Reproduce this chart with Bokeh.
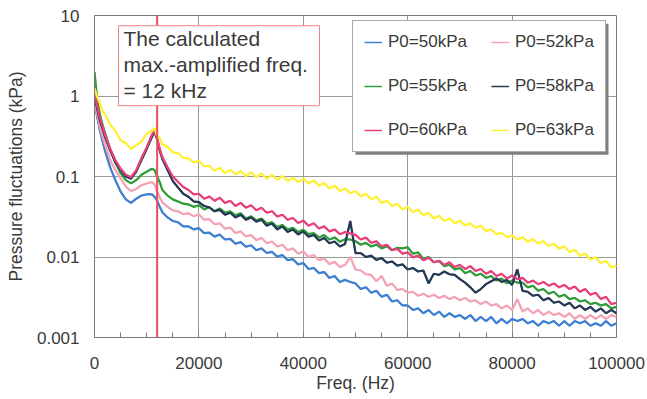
from bokeh.plotting import figure
from bokeh.models import (ColumnDataSource, Legend, LegendItem, Label,
                          BoxAnnotation, FixedTicker, Span, BasicTickFormatter)
from bokeh.embed import file_html
from bokeh.resources import INLINE

# ---------------- data ----------------
freq = ([0, 500, 1000, 1500, 2000, 3000, 4000, 5000, 6000, 7000, 8000, 9000,
         10000, 11000, 11500, 12000, 12500, 13000, 14000, 15000, 16000, 17000,
         18000, 19000] + list(range(20000, 100001, 1000)))

p50 = [0.85, 0.55, 0.38, 0.28, 0.21, 0.13, 0.09, 0.065, 0.052, 0.047, 0.053, 0.058,
       0.06, 0.06, 0.056, 0.05, 0.042, 0.036, 0.031, 0.028, 0.027, 0.024, 0.024, 0.022,
       .0228, .0198, .0201, .0179, .0190, .0165, .0168, .0146, .0153, .0134,
       .0140, .0121, .0128, .0112, .0116, .0101, .0106, .0091, .0094, .0081,
       .0084, .0071, .0073, .0063, .0065, .0055, .0058, .0049, .0052, .0049,
       .0047, .0040, .0042, .0036, .0038, .0032, .0034, .0028, .0029, .0025,
       .0025, .0022, .0023, .0020, .0022, .0019, .0021, .0018, .0020, .0018,
       .0019, .0017, .0019, .0016, .0018, .0016, .0018, .0015, .0017, .0015,
       .0017, .0016, .0017, .0015, .0016, .0014, .0016, .0015, .0016, .0014,
       .0016, .0014, .0016, .0015, .0016, .0014, .0015, .0014, .0016, .0014,
       .0015]

p52 = [0.85, 0.60, 0.42, 0.32, 0.25, 0.16, 0.12, 0.095, 0.075, 0.066, 0.07, 0.078,
       0.082, 0.085, 0.08, 0.065, 0.055, 0.048, 0.042, 0.038, 0.037, 0.034, 0.035, 0.032,
       .0340, .0290, .0295, .0255, .0262, .0225, .0232, .0198, .0208, .0180,
       .0188, .0162, .0172, .0148, .0156, .0135, .0142, .0121, .0128, .0110,
       .0117, .0100, .0106, .0091, .0096, .0082, .0087, .0075, .0080, .0100,
       .0070, .0068, .0061, .0060, .0050, .0058, .0044, .0047, .0039, .0040,
       .0036, .0037, .0033, .0035, .0032, .0034, .0031, .0033, .0030, .0032,
       .0029, .0031, .0028, .0029, .0026, .0028, .0025, .0026, .0023, .0025,
       .0022, .0030, .0021, .0023, .0020, .0022, .0019, .0021, .0019, .0020,
       .0018, .0020, .0017, .0019, .0017, .0019, .0017, .0019, .0017, .0019,
       .0018]

p55 = [2.0, 0.92, 0.60, 0.45, 0.35, 0.22, 0.15, 0.11, 0.09, 0.082, 0.09, 0.105,
       0.115, 0.125, 0.12, 0.10, 0.085, 0.068, 0.058, 0.052, 0.049, 0.046, 0.045, 0.042,
       .0440, .0390, .0415, .0370, .0400, .0355, .0370, .0330, .0350, .0300,
       .0320, .0285, .0300, .0260, .0270, .0235, .0250, .0220, .0230, .0205,
       .0218, .0192, .0198, .0175, .0187, .0165, .0175, .0155, .0166, .0165,
       .0157, .0142, .0150, .0135, .0143, .0128, .0136, .0121, .0130, .0128,
       .0132, .0110, .0114, .0095, .0100, .0086, .0089, .0077, .0080, .0070,
       .0073, .0063, .0067, .0059, .0062, .0055, .0058, .0051, .0054, .0047,
       .0051, .0048, .0048, .0042, .0044, .0038, .0040, .0035, .0037, .0032,
       .0034, .0030, .0031, .0028, .0029, .0026, .0027, .0025, .0026, .0023,
       .0024]

p58 = [1.00, 0.70, 0.50, 0.40, 0.31, 0.21, 0.15, 0.12, 0.10, 0.094, 0.115, 0.16,
       0.22, 0.31, 0.36, 0.29, 0.21, 0.165, 0.12, 0.088, 0.073, 0.061, 0.056, 0.049,
       .0480, .0430, .0415, .0370, .0385, .0335, .0355, .0310, .0335, .0290,
       .0310, .0275, .0290, .0245, .0260, .0220, .0240, .0205, .0220, .0190,
       .0208, .0178, .0188, .0160, .0172, .0148, .0156, .0135, .0145, .0280,
       .0112, .0112, .0100, .0104, .0092, .0097, .0085, .0088, .0078, .0081,
       .0070, .0073, .0066, .0068, .0047, .0062, .0060, .0066, .0061, .0060,
       .0053, .0048, .0042, .0036, .0040, .0046, .0050, .0054, .0049, .0052,
       .0045, .0070, .0038, .0037, .0033, .0034, .0029, .0031, .0027, .0028,
       .0025, .0027, .0023, .0025, .0022, .0024, .0021, .0023, .0020, .0022,
       .0020]

p60 = [1.10, 0.76, 0.54, 0.43, 0.33, 0.22, 0.16, 0.125, 0.105, 0.098, 0.12, 0.17,
       0.23, 0.33, 0.37, 0.30, 0.22, 0.175, 0.13, 0.10, 0.086, 0.074, 0.068, 0.060,
       .0610, .0530, .0565, .0500, .0545, .0470, .0500, .0430, .0470, .0410,
       .0440, .0380, .0410, .0355, .0370, .0318, .0335, .0290, .0305, .0265,
       .0283, .0245, .0262, .0226, .0240, .0208, .0220, .0192, .0204, .0196,
       .0188, .0165, .0174, .0150, .0157, .0136, .0142, .0122, .0126, .0110,
       .0114, .0099, .0104, .0091, .0098, .0086, .0090, .0080, .0086, .0075,
       .0080, .0071, .0077, .0067, .0071, .0062, .0067, .0058, .0062, .0054,
       .0059, .0053, .0055, .0048, .0051, .0046, .0049, .0044, .0047, .0042,
       .0045, .0040, .0043, .0037, .0040, .0034, .0036, .0030, .0032, .0026,
       .0027]

p63 = [1.25, 0.98, 0.82, 0.66, 0.60, 0.44, 0.37, 0.28, 0.26, 0.22, 0.245, 0.27,
       0.34, 0.37, 0.40, 0.32, 0.30, 0.25, 0.235, 0.20, 0.195, 0.17, 0.168, 0.150,
       .156, .134, .136, .118, .128, .110, .121, .106, .117, .101,
       .113, .098, .109, .094, .105, .091, .101, .088, .097, .085,
       .094, .082, .089, .077, .083, .071, .077, .066, .071, .062,
       .066, .057, .061, .052, .056, .047, .050, .043, .046, .039,
       .042, .036, .039, .033, .0355, .0300, .0325, .0280, .0302, .0262,
       .0283, .0246, .0262, .0231, .0245, .0210, .0220, .0192, .0199, .0176,
       .0186, .0166, .0175, .0155, .0167, .0147, .0157, .0137, .0146, .0127,
       .0136, .0115, .0123, .0104, .0110, .0093, .0099, .0084, .0089, .0074,
       .0078]

series_names = ["P0=50kPa", "P0=52kPa", "P0=55kPa", "P0=58kPa", "P0=60kPa", "P0=63kPa"]
series_values = [p50, p52, p55, p58, p60, p63]
series_colors = ["#3f80d2", "#f4a3b5", "#2f9e3a", "#263a55", "#e8407c", "#fff035"]
for vals in series_values:
    assert len(vals) == len(freq), (len(vals), len(freq))

calc_freq = 12000
x_ticks = [0, 20000, 40000, 60000, 80000, 100000]
x_minor = [5000 * i for i in range(1, 20)]
y_ticks = [0.001, 0.01, 0.1, 1, 10]
y_tick_labels = ["0.001", "0.01", "0.1", "1", "10"]
note_lines = ["The calculated", "max.-amplified freq.", "= 12 kHz"]

FONT = "Liberation Sans"
TXT = "#3a3a3a"

p = figure(width=647, height=399,
           x_range=(0, 100000), y_range=(0.001, 10), y_axis_type="log",
           output_backend="svg", toolbar_location=None,
           min_border_left=94, min_border_top=15, min_border_right=31,
           min_border_bottom=62, background_fill_color="white",
           border_fill_color="white")
p.outline_line_color = "#7a7a7a"

# grids
p.xgrid.ticker = FixedTicker(ticks=x_ticks)
p.ygrid.ticker = FixedTicker(ticks=y_ticks)
for g in (p.xgrid, p.ygrid):
    g.grid_line_color = "#9a9a9a"
    g.grid_line_width = 1

# axes
p.xaxis.ticker = FixedTicker(ticks=x_ticks, minor_ticks=x_minor)
p.xaxis.formatter = BasicTickFormatter(use_scientific=False)
p.yaxis.ticker = FixedTicker(ticks=y_ticks)
p.yaxis.major_label_overrides = {t: s for t, s in zip(y_ticks, y_tick_labels)}
p.xaxis.axis_label = "Freq. (Hz)"
p.yaxis.axis_label = "Pressure fluctuations (kPa)"
for ax in (p.xaxis, p.yaxis):
    ax.axis_line_color = "#7a7a7a"
    ax.major_tick_out = 0
    ax.major_tick_in = 0
    ax.minor_tick_out = 0
    ax.major_label_text_font = FONT
    ax.major_label_text_font_size = "17px"
    ax.major_label_text_color = TXT
    ax.axis_label_text_font = FONT
    ax.axis_label_text_font_size = "17.5px"
    ax.axis_label_text_font_style = "normal"
    ax.axis_label_text_color = TXT
p.xaxis.minor_tick_in = 5
p.xaxis.minor_tick_line_color = "#7a7a7a"
p.yaxis.minor_tick_in = 0
p.xaxis.major_label_standoff = 19
p.xaxis.axis_label_standoff = 1
p.yaxis.major_label_standoff = 15
p.yaxis.axis_label_standoff = 8

# series: a noisy band plus a thin copy used for the legend swatch
legend_lines = []
for name, vals, col in zip(series_names, series_values, series_colors):
    src = ColumnDataSource(dict(x=freq, y=vals))
    p.line("x", "y", source=src, line_color=col, line_width=2.2)
    thin = p.line("x", "y", source=src, line_color=col, line_width=1.5)
    legend_lines.append(thin)

# red marker line at the calculated frequency
p.add_layout(Span(location=calc_freq, dimension="height",
                  line_color="#e8505a", line_width=2))

# annotation box with note
p.add_layout(BoxAnnotation(left=4600, right=43100, top=7.47, bottom=0.758,
                           fill_color="white", fill_alpha=1,
                           line_color="#f08080", line_width=1, line_alpha=1))
for txt, yy in zip(note_lines, [5.15, 2.45, 1.16]):
    p.add_layout(Label(x=5560, y=yy, text=txt, text_font=FONT,
                       text_font_size="21px", text_color=TXT,
                       text_baseline="middle", text_align="left"))

# legend shadow
p.add_layout(BoxAnnotation(left=50000, right=98470, top=7.91, bottom=0.1866,
                           fill_color="#808080", fill_alpha=1, line_alpha=0))

# Bokeh fills legend columns first: order so rows read 50|52, 55|58, 60|63
order = [0, 2, 4, 1, 3, 5]
legend = Legend(items=[LegendItem(label=series_names[i], renderers=[legend_lines[i]])
                       for i in order],
                location=(258, 185), ncols=2,
                label_text_font=FONT, label_text_font_size="17px",
                label_text_color=TXT, glyph_width=18, glyph_height=20,
                label_height=20, label_standoff=6, spacing=24, padding=11,
                margin=0, border_line_color="#555555", border_line_width=1,
                background_fill_color="white", background_fill_alpha=1)
p.add_layout(legend, "center")

open("out.html", "w").write(file_html(p, INLINE))
